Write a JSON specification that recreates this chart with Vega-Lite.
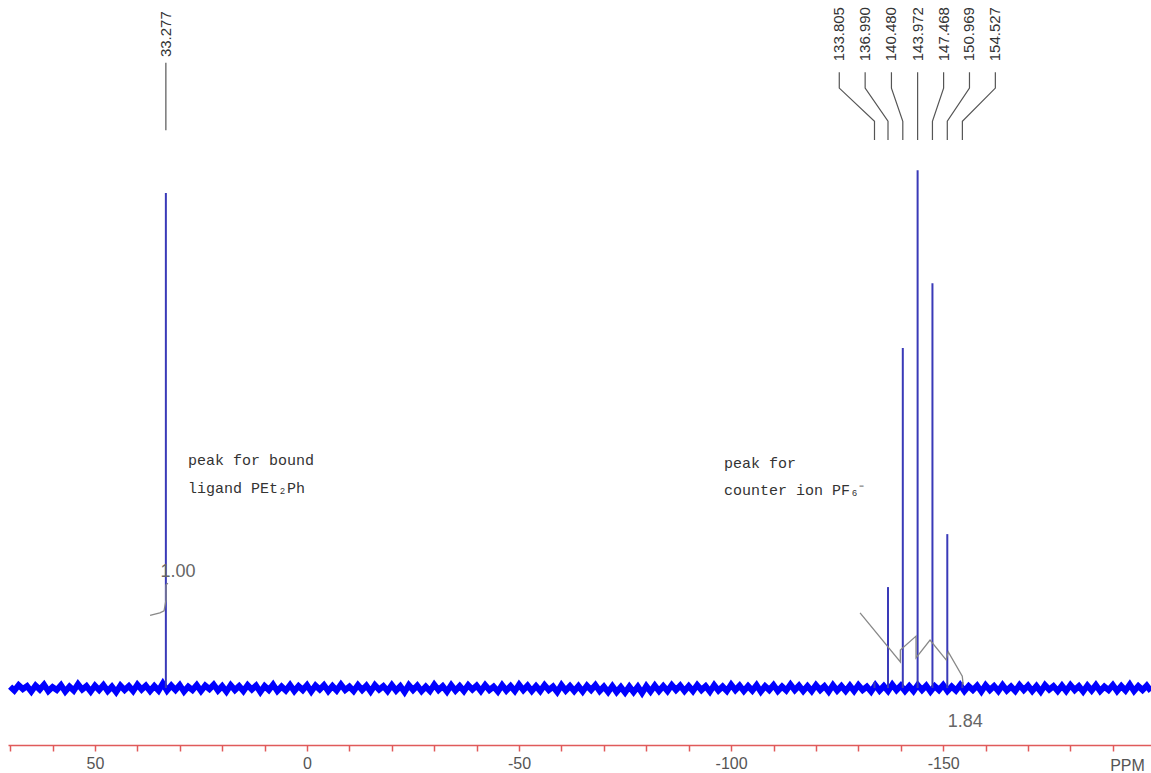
{
  "$schema": "https://vega.github.io/schema/vega-lite/v6.json",
  "width": 1143,
  "height": 745,
  "autosize": {"type": "none"},
  "padding": {"left": 8, "top": 0, "right": 0, "bottom": 28},
  "background": "white",
  "config": {"view": {"stroke": null}},
  "datasets": {
    "noise": [
      {"p":70,"v":0.3},{"p":69,"v":-0.5},{"p":68,"v":0.6},{"p":67,"v":-0.2},{"p":66,"v":0.4},{"p":65,"v":-0.7},{"p":64,"v":0.5},{"p":63,"v":-0.3},{"p":62,"v":0.7},{"p":61,"v":-0.6},
      {"p":60,"v":0.2},{"p":59,"v":-0.4},{"p":58,"v":0.6},{"p":57,"v":-0.7},{"p":56,"v":0.3},{"p":55,"v":-0.5},{"p":54,"v":0.8},{"p":53,"v":-0.3},{"p":52,"v":0.4},{"p":51,"v":-0.7},
      {"p":50,"v":0.5},{"p":49,"v":-0.4},{"p":48,"v":0.6},{"p":47,"v":-0.6},{"p":46,"v":0.3},{"p":45,"v":-0.8},{"p":44,"v":0.5},{"p":43,"v":-0.4},{"p":42,"v":0.4},{"p":41,"v":-0.6},
      {"p":40,"v":0.7},{"p":39,"v":-0.3},{"p":38,"v":0.5},{"p":37,"v":-0.6},{"p":36,"v":0.4},{"p":35,"v":-0.5},{"p":34,"v":0.9},{"p":33,"v":-0.5},{"p":32,"v":0.5},{"p":31,"v":-0.4},
      {"p":30,"v":0.6},{"p":29,"v":-0.7},{"p":28,"v":0.3},{"p":27,"v":-0.4},{"p":26,"v":0.6},{"p":25,"v":-0.6},{"p":24,"v":0.5},{"p":23,"v":-0.2},{"p":22,"v":0.7},{"p":21,"v":-0.5},
      {"p":20,"v":0.4},{"p":19,"v":-0.7},{"p":18,"v":0.6},{"p":17,"v":-0.4},{"p":16,"v":0.4},{"p":15,"v":-0.6},{"p":14,"v":0.6},{"p":13,"v":-0.3},{"p":12,"v":0.5},{"p":11,"v":-0.8},
      {"p":10,"v":0.4},{"p":9,"v":-0.4},{"p":8,"v":0.7},{"p":7,"v":-0.6},{"p":6,"v":0.3},{"p":5,"v":-0.5},{"p":4,"v":0.6},{"p":3,"v":-0.6},{"p":2,"v":0.4},{"p":1,"v":-0.4},
      {"p":0,"v":0.6},{"p":-1,"v":-0.7},{"p":-2,"v":0.5},{"p":-3,"v":-0.3},{"p":-4,"v":0.6},{"p":-5,"v":-0.6},{"p":-6,"v":0.4},{"p":-7,"v":-0.5},{"p":-8,"v":0.7},{"p":-9,"v":-0.4},
      {"p":-10,"v":0.3},{"p":-11,"v":-0.6},{"p":-12,"v":0.6},{"p":-13,"v":-0.4},{"p":-14,"v":0.5},{"p":-15,"v":-0.7},{"p":-16,"v":0.6},{"p":-17,"v":-0.3},{"p":-18,"v":0.4},{"p":-19,"v":-0.6},
      {"p":-20,"v":0.6},{"p":-21,"v":-0.5},{"p":-22,"v":0.4},{"p":-23,"v":-0.8},{"p":-24,"v":0.6},{"p":-25,"v":-0.4},{"p":-26,"v":0.5},{"p":-27,"v":-0.6},{"p":-28,"v":0.3},{"p":-29,"v":-0.6},
      {"p":-30,"v":0.7},{"p":-31,"v":-0.4},{"p":-32,"v":0.4},{"p":-33,"v":-0.7},{"p":-34,"v":0.6},{"p":-35,"v":-0.5},{"p":-36,"v":0.4},{"p":-37,"v":-0.6},{"p":-38,"v":0.6},{"p":-39,"v":-0.3},
      {"p":-40,"v":0.5},{"p":-41,"v":-0.6},{"p":-42,"v":0.6},{"p":-43,"v":-0.4},{"p":-44,"v":0.3},{"p":-45,"v":-0.7},{"p":-46,"v":0.6},{"p":-47,"v":-0.5},{"p":-48,"v":0.4},{"p":-49,"v":-0.6},
      {"p":-50,"v":0.7},{"p":-51,"v":-0.4},{"p":-52,"v":0.5},{"p":-53,"v":-0.6},{"p":-54,"v":0.4},{"p":-55,"v":-0.6},{"p":-56,"v":0.6},{"p":-57,"v":-0.4},{"p":-58,"v":0.3},{"p":-59,"v":-0.8},
      {"p":-60,"v":0.6},{"p":-61,"v":-0.5},{"p":-62,"v":0.4},{"p":-63,"v":-0.6},{"p":-64,"v":0.4},{"p":-65,"v":-0.7},{"p":-66,"v":0.5},{"p":-67,"v":-0.4},{"p":-68,"v":0.6},{"p":-69,"v":-0.6},
      {"p":-70,"v":0.3},{"p":-71,"v":-0.8},{"p":-72,"v":0.4},{"p":-73,"v":-0.8},{"p":-74,"v":0.2},{"p":-75,"v":-0.9},{"p":-76,"v":0.3},{"p":-77,"v":-0.8},{"p":-78,"v":0.3},{"p":-79,"v":-1.0},
      {"p":-80,"v":0.4},{"p":-81,"v":-0.7},{"p":-82,"v":0.5},{"p":-83,"v":-0.6},{"p":-84,"v":0.4},{"p":-85,"v":-0.6},{"p":-86,"v":0.6},{"p":-87,"v":-0.4},{"p":-88,"v":0.5},{"p":-89,"v":-0.6},
      {"p":-90,"v":0.4},{"p":-91,"v":-0.6},{"p":-92,"v":0.6},{"p":-93,"v":-0.4},{"p":-94,"v":0.4},{"p":-95,"v":-0.7},{"p":-96,"v":0.6},{"p":-97,"v":-0.5},{"p":-98,"v":0.3},{"p":-99,"v":-0.6},
      {"p":-100,"v":0.7},{"p":-101,"v":-0.4},{"p":-102,"v":0.5},{"p":-103,"v":-0.6},{"p":-104,"v":0.4},{"p":-105,"v":-0.5},{"p":-106,"v":0.6},{"p":-107,"v":-0.7},{"p":-108,"v":0.4},{"p":-109,"v":-0.4},
      {"p":-110,"v":0.6},{"p":-111,"v":-0.6},{"p":-112,"v":0.3},{"p":-113,"v":-0.5},{"p":-114,"v":0.7},{"p":-115,"v":-0.4},{"p":-116,"v":0.5},{"p":-117,"v":-0.6},{"p":-118,"v":0.4},{"p":-119,"v":-0.6},
      {"p":-120,"v":0.6},{"p":-121,"v":-0.4},{"p":-122,"v":0.4},{"p":-123,"v":-0.7},{"p":-124,"v":0.6},{"p":-125,"v":-0.5},{"p":-126,"v":0.4},{"p":-127,"v":-0.6},{"p":-128,"v":0.5},{"p":-129,"v":-0.6},
      {"p":-130,"v":0.6},{"p":-131,"v":-0.4},{"p":-132,"v":0.3},{"p":-133,"v":-0.7},{"p":-134,"v":0.6},{"p":-135,"v":-0.5},{"p":-136,"v":0.4},{"p":-137,"v":-0.6},{"p":-138,"v":0.7},{"p":-139,"v":-0.4},
      {"p":-140,"v":0.5},{"p":-141,"v":-0.6},{"p":-142,"v":0.4},{"p":-143,"v":-0.6},{"p":-144,"v":0.6},{"p":-145,"v":-0.4},{"p":-146,"v":0.5},{"p":-147,"v":-0.7},{"p":-148,"v":0.4},{"p":-149,"v":-0.4},
      {"p":-150,"v":0.6},{"p":-151,"v":-0.6},{"p":-152,"v":0.3},{"p":-153,"v":-0.5},{"p":-154,"v":0.6},{"p":-155,"v":-0.6},{"p":-156,"v":0.4},{"p":-157,"v":-0.4},{"p":-158,"v":0.5},{"p":-159,"v":-0.7},
      {"p":-160,"v":0.6},{"p":-161,"v":-0.4},{"p":-162,"v":0.4},{"p":-163,"v":-0.6},{"p":-164,"v":0.6},{"p":-165,"v":-0.5},{"p":-166,"v":0.3},{"p":-167,"v":-0.6},{"p":-168,"v":0.6},{"p":-169,"v":-0.4},
      {"p":-170,"v":0.5},{"p":-171,"v":-0.6},{"p":-172,"v":0.4},{"p":-173,"v":-0.7},{"p":-174,"v":0.6},{"p":-175,"v":-0.3},{"p":-176,"v":0.4},{"p":-177,"v":-0.6},{"p":-178,"v":0.5},{"p":-179,"v":-0.6},
      {"p":-180,"v":0.6},{"p":-181,"v":-0.4},{"p":-182,"v":0.4},{"p":-183,"v":-0.7},{"p":-184,"v":0.5},{"p":-185,"v":-0.5},{"p":-186,"v":0.6},{"p":-187,"v":-0.6},{"p":-188,"v":0.3},{"p":-189,"v":-0.4},
      {"p":-190,"v":0.6},{"p":-191,"v":-0.6},{"p":-192,"v":0.4},{"p":-193,"v":-0.5},{"p":-194,"v":0.7},{"p":-195,"v":-0.6},{"p":-196,"v":0.4},{"p":-197,"v":-0.4},{"p":-198,"v":0.5},{"p":-199,"v":-0.6}
    ],
    "peaks": [
      {"p":33.277,"b":0,"h":100},
      {"p":-133.805,"b":0,"h":1.2},
      {"p":-136.990,"b":0,"h":20.4},
      {"p":-140.480,"b":0,"h":68.7},
      {"p":-143.972,"b":0,"h":104.6},
      {"p":-147.468,"b":0,"h":81.8},
      {"p":-150.969,"b":0,"h":31.1},
      {"p":-154.527,"b":0,"h":1.2}
    ],
    "labels": [
      {"label":"33.277","p":33.277,"v":132.1},
      {"label":"133.805","p":-125.5,"v":132.1},
      {"label":"136.990","p":-131.6,"v":132.1},
      {"label":"140.480","p":-137.8,"v":132.1},
      {"label":"143.972","p":-143.972,"v":132.1},
      {"label":"147.468","p":-150.1,"v":132.1},
      {"label":"150.969","p":-156.2,"v":132.1},
      {"label":"154.527","p":-162.3,"v":132.1}
    ],
    "leaders": [
      {"k":"a","o":1,"p":33.277,"v":126.3},{"k":"a","o":2,"p":33.277,"v":112.7},
      {"k":"b","o":1,"p":-125.5,"v":124.4},{"k":"b","o":2,"p":-125.5,"v":121.2},{"k":"b","o":3,"p":-133.805,"v":114.5},{"k":"b","o":4,"p":-133.805,"v":110.7},
      {"k":"c","o":1,"p":-131.6,"v":124.4},{"k":"c","o":2,"p":-131.6,"v":121.2},{"k":"c","o":3,"p":-136.990,"v":114.5},{"k":"c","o":4,"p":-136.990,"v":110.7},
      {"k":"d","o":1,"p":-137.8,"v":124.4},{"k":"d","o":2,"p":-137.8,"v":121.2},{"k":"d","o":3,"p":-140.480,"v":114.5},{"k":"d","o":4,"p":-140.480,"v":110.7},
      {"k":"e","o":1,"p":-143.972,"v":124.4},{"k":"e","o":2,"p":-143.972,"v":110.7},
      {"k":"f","o":1,"p":-150.1,"v":124.4},{"k":"f","o":2,"p":-150.1,"v":121.2},{"k":"f","o":3,"p":-147.468,"v":114.5},{"k":"f","o":4,"p":-147.468,"v":110.7},
      {"k":"g","o":1,"p":-156.2,"v":124.4},{"k":"g","o":2,"p":-156.2,"v":121.2},{"k":"g","o":3,"p":-150.969,"v":114.5},{"k":"g","o":4,"p":-150.969,"v":110.7},
      {"k":"h","o":1,"p":-162.3,"v":124.4},{"k":"h","o":2,"p":-162.3,"v":121.2},{"k":"h","o":3,"p":-154.527,"v":114.5},{"k":"h","o":4,"p":-154.527,"v":110.7}
    ],
    "integrals": [
      {"k":"L","o":1,"p":37.0,"v":14.7},{"k":"L","o":2,"p":34.7,"v":15.2},{"k":"L","o":3,"p":33.7,"v":15.6},{"k":"L","o":4,"p":33.25,"v":17.8},{"k":"L","o":5,"p":33.25,"v":20.8},{"k":"L","o":6,"p":32.8,"v":21.2},
      {"k":"R","o":1,"p":-130.4,"v":15.2},{"k":"R","o":2,"p":-139.9,"v":5.3},{"k":"R","o":3,"p":-139.9,"v":7.7},{"k":"R","o":4,"p":-143.6,"v":10.5},{"k":"R","o":5,"p":-143.6,"v":6.1},{"k":"R","o":6,"p":-146.9,"v":9.7},{"k":"R","o":7,"p":-150.7,"v":5.7},{"k":"R","o":8,"p":-151.2,"v":7.3},{"k":"R","o":9,"p":-154.5,"v":2.4},{"k":"R","o":10,"p":-154.7,"v":0.8}
    ],
    "intlabels": [
      {"t":"1.00","p":30.4,"v":23.4},
      {"t":"1.84","p":-155.2,"v":-6.9}
    ],
    "notes": [
      {"t":"peak for bound","p":28.07,"v":46.1},
      {"t":"ligand PEt₂Ph","p":28.07,"v":40.4},
      {"t":"peak for","p":-98.3,"v":45.5},
      {"t":"counter ion PF₆⁻","p":-98.3,"v":40.0}
    ]
  },
  "layer": [
    {
      "data": {"name": "noise"},
      "mark": {"type": "line", "color": "#0000ff", "strokeWidth": 6},
      "encoding": {
        "x": {"field": "p", "type": "quantitative",
              "scale": {"domain": [-199, 70.5], "reverse": true, "nice": false, "zero": false},
              "axis": {
                "values": [70,60,50,40,30,20,10,0,-10,-20,-30,-40,-50,-60,-70,-80,-90,-100,-110,-120,-130,-140,-150,-160,-170,-180,-190],
                "labelExpr": "datum.value % 50 === 0 ? replace(datum.label, '\u2212', '-') : ''",
                "grid": false,
                "domainColor": "#e05a5a", "domainWidth": 1.5,
                "tickColor": "#e05a5a", "tickSize": 6, "tickWidth": 1.5,
                "labelColor": "#555555", "labelFont": "Liberation Sans", "labelFontSize": 16,
                "labelPadding": 4, "labelFlush": false, "labelOverlap": false,
                "title": "PPM", "titleX": 1119, "titleY": 20, "titleAlign": "center", "titleBaseline": "middle",
                "titleFontWeight": "normal", "titleColor": "#555555", "titleFont": "Liberation Sans", "titleFontSize": 16
              }},
        "y": {"field": "v", "type": "quantitative", "scale": {"domain": [-11.5, 139], "nice": false, "zero": false}, "axis": null}
      }
    },
    {
      "data": {"name": "peaks"},
      "mark": {"type": "rule", "color": "#3a3ab8", "strokeWidth": 2},
      "encoding": {
        "x": {"field": "p", "type": "quantitative"},
        "y": {"field": "b", "type": "quantitative"},
        "y2": {"field": "h"}
      }
    },
    {
      "data": {"name": "leaders"},
      "mark": {"type": "line", "color": "#555555", "strokeWidth": 1.2},
      "encoding": {
        "x": {"field": "p", "type": "quantitative"},
        "y": {"field": "v", "type": "quantitative"},
        "detail": {"field": "k", "type": "nominal"},
        "order": {"field": "o", "type": "quantitative"}
      }
    },
    {
      "data": {"name": "labels"},
      "mark": {"type": "text", "angle": 270, "align": "center", "baseline": "middle", "font": "Liberation Sans", "fontSize": 15, "color": "#333333"},
      "encoding": {
        "x": {"field": "p", "type": "quantitative"},
        "y": {"field": "v", "type": "quantitative"},
        "text": {"field": "label", "type": "nominal"}
      }
    },
    {
      "data": {"name": "integrals"},
      "mark": {"type": "line", "color": "#888888", "strokeWidth": 1.3},
      "encoding": {
        "x": {"field": "p", "type": "quantitative"},
        "y": {"field": "v", "type": "quantitative"},
        "detail": {"field": "k", "type": "nominal"},
        "order": {"field": "o", "type": "quantitative"}
      }
    },
    {
      "data": {"name": "intlabels"},
      "mark": {"type": "text", "align": "center", "baseline": "middle", "font": "Liberation Sans", "fontSize": 18, "color": "#666666"},
      "encoding": {
        "x": {"field": "p", "type": "quantitative"},
        "y": {"field": "v", "type": "quantitative"},
        "text": {"field": "t", "type": "nominal"}
      }
    },
    {
      "data": {"name": "notes"},
      "mark": {"type": "text", "align": "left", "baseline": "middle", "font": "Liberation Mono", "fontSize": 15, "color": "#333333"},
      "encoding": {
        "x": {"field": "p", "type": "quantitative"},
        "y": {"field": "v", "type": "quantitative"},
        "text": {"field": "t", "type": "nominal"}
      }
    }
  ]
}
